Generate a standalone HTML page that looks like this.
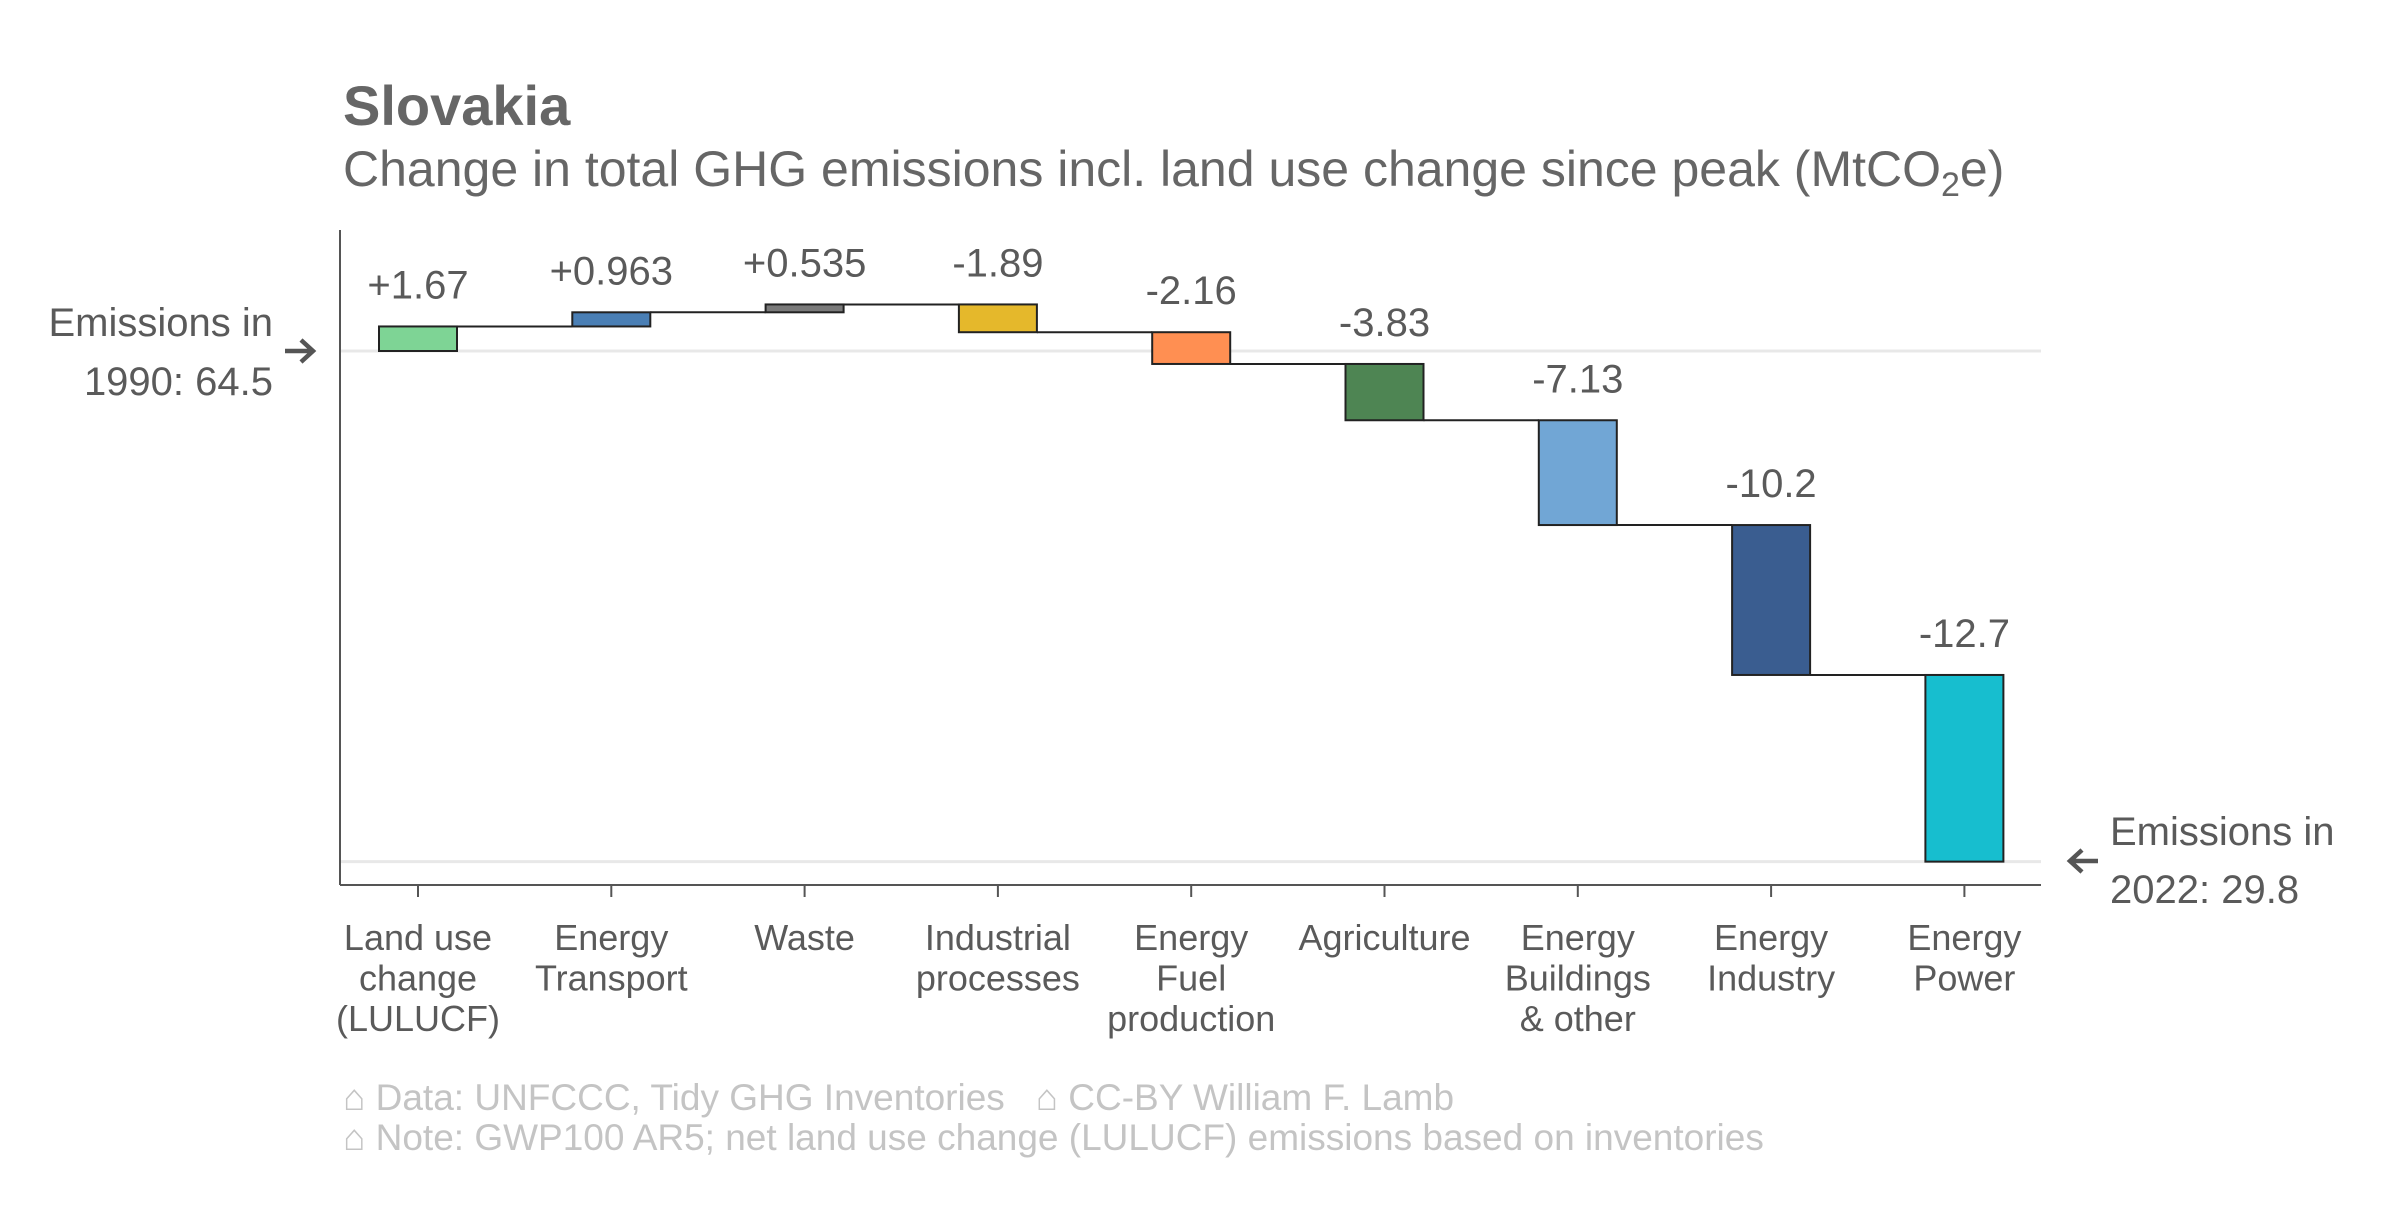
<!DOCTYPE html>
<html><head><meta charset="utf-8"><style>
html,body{margin:0;padding:0;background:#fff;}
svg text{font-family:"Liberation Sans",Arial,sans-serif;white-space:pre;}
</style></head><body>
<svg id="chart" width="2400" height="1200" viewBox="0 0 2400 1200" xmlns="http://www.w3.org/2000/svg">
<text x="343" y="125" font-size="56" font-weight="bold" fill="#666">Slovakia</text>
<text x="343" y="186" font-size="50" fill="#666">Change in total GHG emissions incl. land use change since peak (MtCO<tspan font-size="34" dy="10">2</tspan><tspan dy="-10">e)</tspan></text>
<g id="plot"></g>
<text x="343" y="1110" font-size="37" fill="#c4c4c4" xml:space="preserve">⌂ Data: UNFCCC, Tidy GHG Inventories   ⌂ CC-BY William F. Lamb</text>
<text x="343" y="1150" font-size="37" fill="#c4c4c4">⌂ Note: GWP100 AR5; net land use change (LULUCF) emissions based on inventories</text>
</svg>
<script>
const categories = [["Land use","change","(LULUCF)"],["Energy","Transport"],["Waste"],["Industrial","processes"],["Energy","Fuel","production"],["Agriculture"],["Energy","Buildings","& other"],["Energy","Industry"],["Energy","Power"]];
const changes = [1.67, 0.963, 0.535, -1.89, -2.16, -3.83, -7.13, -10.2, -12.7];
const valueLabels = ["+1.67","+0.963","+0.535","-1.89","-2.16","-3.83","-7.13","-10.2","-12.7"];
const colors = ["#7ED495","#4A7FB5","#7A7A7A","#E5B82B","#FF8F52","#4E8553","#71A6D5","#3A5D90","#17BECF"];
const startValue = 64.5;
const endValue = 29.8;
const startYear = "1990";
const endYear = "2022";

const NS="http://www.w3.org/2000/svg";
const g=document.getElementById('plot');
const X0=340, X1=2041, AXY=885;
const firstTick=418, step=193.3, barW=78;
const yTop=351, yBot=861;
function y(v){return yTop+(v-startValue)*(yBot-yTop)/(endValue-startValue);}
function x(i){return firstTick+i*step;}
function mk(tag,attrs){const e=document.createElementNS(NS,tag);for(const k in attrs)e.setAttribute(k,attrs[k]);g.appendChild(e);return e;}

let gl=mk('line',{x1:X0,x2:X1,y1:y(startValue),y2:y(startValue),stroke:'#e8e8e8','stroke-width':3});


let ends=startValue+changes.reduce((a,b)=>a+b,0);
let gl2=mk('line',{x1:X0,x2:X1,y1:y(ends),y2:y(ends),stroke:'#e8e8e8','stroke-width':3});



let ya=mk('line',{x1:X0,x2:X0,y1:230,y2:AXY,stroke:'#555','stroke-width':2});


let xa=mk('line',{x1:X0,x2:X1,y1:AXY,y2:AXY,stroke:'#555','stroke-width':2});



let cum=startValue;
changes.forEach((c,i)=>{
  const a=cum, b=cum+c;
  const cx=x(i);
  if(i<changes.length-1){
    const ln=mk('line',{x1:cx+barW/2,x2:x(i+1)-barW/2,y1:y(b),y2:y(b),stroke:'#222','stroke-width':2});
    
    
  }
  const top=y(Math.max(a,b));
  const r=mk('rect',{x:cx-barW/2,y:top,width:barW,height:Math.abs(y(a)-y(b)),fill:colors[i],stroke:'#222','stroke-width':2});
  
  
  const t=mk('text',{x:cx,y:top-28,'text-anchor':'middle','font-size':40,fill:'#5a5a5a'});
  t.textContent=valueLabels[i];
  
  
  const tk=mk('line',{x1:cx,x2:cx,y1:AXY,y2:AXY+12,stroke:'#555','stroke-width':2});
  
  
  const tl=mk('text',{x:cx,y:950,'text-anchor':'middle','font-size':36,fill:'#5a5a5a'});
  
  
  categories[i].forEach((s,j)=>{const ts=document.createElementNS(NS,'tspan');ts.setAttribute('x',cx);ts.setAttribute('dy',j?40.5:0);ts.textContent=s;tl.appendChild(ts);});
  cum=b;
});

function ann(name,x0,lines,ys,anchor){
  const t=mk('text',{x:x0,'text-anchor':anchor,'font-size':40,fill:'#5a5a5a'});
  
  
  lines.forEach((s,j)=>{const ts=document.createElementNS(NS,'tspan');ts.setAttribute('x',x0);ts.setAttribute('y',ys[j]);ts.textContent=s;t.appendChild(ts);});
}
const ys=y(startValue), ye=y(endValue);
ann('start-annotation',273,['Emissions in',startYear+': '+startValue],[ys-15,ys+44],'end');
let ar=mk('path',{d:`M285 ${ys} H313 M301 ${ys-11} L313 ${ys} L301 ${ys+11}`,stroke:'#555','stroke-width':4.5,fill:'none'});


ann('end-annotation',2110,['Emissions in',endYear+': '+endValue],[ye-16,ye+42],'start');
let ar2=mk('path',{d:`M2098 ${ye} H2070 M2082 ${ye-11} L2070 ${ye} L2082 ${ye+11}`,stroke:'#555','stroke-width':4.5,fill:'none'});


</script>
</body></html>
